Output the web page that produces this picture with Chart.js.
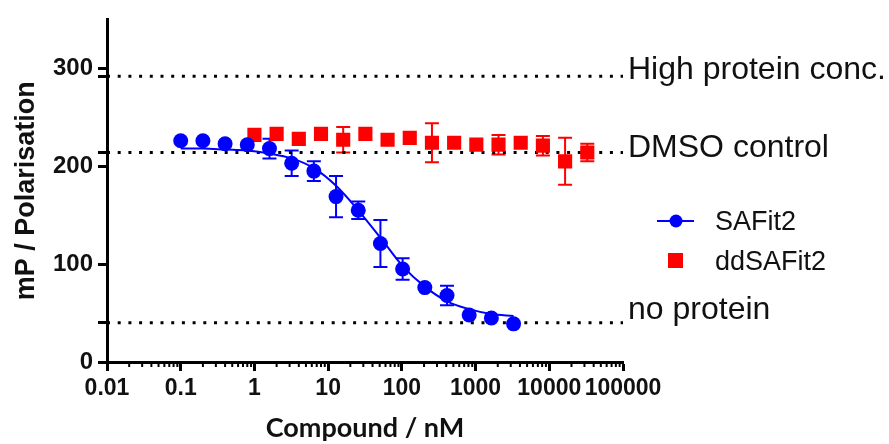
<!DOCTYPE html>
<html>
<head>
<meta charset="utf-8">
<script src="https://cdn.jsdelivr.net/npm/chart.js@4.4.1/dist/chart.umd.min.js"></script>
<style>
  html, body { margin: 0; padding: 0; background: #fff; }
  #wrap { width: 889px; height: 444px; }
</style>
</head>
<body>
<div id="wrap"><canvas id="chart" width="889" height="444"></canvas></div>
<script>
/* polarisation assay: SAFit2 vs ddSAFit2 */

// blue circles + fitted curve
const SAFIT2_X = [0.1, 0.2, 0.4, 0.8, 1.6, 3.2, 6.4, 12.8, 25.6, 51.2, 102.4, 204.8, 409.6, 819.2, 1638.4, 3276.8];
const SAFIT2_Y = [226, 226, 223, 222, 218, 203, 195, 169, 155, 121, 95, 76, 68, 48, 45, 39];
const SAFIT2_ERR = [0, 0, 0, 0, 10, 13, 10, 21, 9, 24, 11, 0, 10, 0, 0, 0];
const FIT_X = [0.1, 0.2, 0.4, 0.8, 1.6, 3.2, 6.4, 12.8, 25.6, 51.2, 102.4, 204.8, 409.6, 819.2, 1638.4, 3276.8];
const FIT_Y = [218, 218, 217, 216, 213, 208, 198, 180, 155, 127, 98, 77, 62, 54, 49, 47];

// red squares
const DDSAFIT2_X = [1, 2, 4, 8, 16, 32, 64, 128, 256, 512, 1024, 2048, 4096, 8192, 16384, 32768];
const DDSAFIT2_Y = [232, 233, 228, 233, 227, 233, 227, 229, 224, 224, 222, 222, 224, 221, 205, 214];
const DDSAFIT2_ERR = [0, 0, 0, 0, 13, 0, 0, 0, 20, 0, 0, 10, 0, 10, 24, 9];

// dotted reference levels
const REF_LABELS = ["High protein conc.", "DMSO control", "no protein"];
const REF_VALUES = [292, 214, 40];

// axes
const X_TICKS = [0.01, 0.1, 1, 10, 100, 1000, 10000, 100000];
const X_TICK_LABELS = ["0.01", "0.1", "1", "10", "100", "1000", "10000", "100000"];
const Y_TICKS = [0, 100, 200, 300];

const BLUE = "#0000ff", RED = "#ff0000", INK = "#111";
const SANS = "'Liberation Sans', Arial, sans-serif";

const pts = (xs, ys) => xs.map((v, i) => ({ x: v, y: ys[i] }));

const refSets = REF_VALUES.map(v => ({
  type: "line",
  data: [{ x: X_TICKS[0], y: v }, { x: X_TICKS[X_TICKS.length - 1], y: v }],
  borderColor: "#000", borderWidth: 3, borderDash: [3, 7.7],
  pointRadius: 0, order: 3
}));

// error bars, drawn under the markers
const errorBars = {
  id: "errorBars",
  beforeDatasetsDraw(chart) {
    const { ctx, scales: { x, y } } = chart;
    [[SAFIT2_X, SAFIT2_Y, SAFIT2_ERR, BLUE], [DDSAFIT2_X, DDSAFIT2_Y, DDSAFIT2_ERR, RED]].forEach(([xs, ys, es, col]) => {
      ctx.save();
      ctx.strokeStyle = col; ctx.lineWidth = 2;
      xs.forEach((v, i) => {
        if (!es[i]) return;
        const px = x.getPixelForValue(v);
        const top = y.getPixelForValue(ys[i] + es[i]), bot = y.getPixelForValue(ys[i] - es[i]);
        ctx.beginPath();
        ctx.moveTo(px, top); ctx.lineTo(px, bot);
        ctx.moveTo(px - 7, top); ctx.lineTo(px + 7, top);
        ctx.moveTo(px - 7, bot); ctx.lineTo(px + 7, bot);
        ctx.stroke();
      });
      ctx.restore();
    });
  }
};

// short minor ticks on the log axis, labels on the right, legend
const extras = {
  id: "extras",
  afterDraw(chart, args, opts) {
    const { ctx, chartArea, scales: { x, y } } = chart;
    ctx.save();
    ctx.strokeStyle = "#000"; ctx.lineWidth = 2;
    for (let n = -2; n < 5; n++) {
      for (let m = 2; m < 10; m++) {
        const px = x.getPixelForValue(m * Math.pow(10, n));
        ctx.beginPath();
        ctx.moveTo(px, chartArea.bottom); ctx.lineTo(px, chartArea.bottom + 5);
        ctx.stroke();
      }
    }

    ctx.fillStyle = INK;
    ctx.font = "32px " + SANS;
    ctx.textBaseline = "alphabetic";
    REF_VALUES.forEach((v, i) => {
      ctx.fillText(REF_LABELS[i], chartArea.right + 5, y.getPixelForValue(v) + opts.labelShift[i]);
    });

    // legend
    const lx = opts.legendX, ly = opts.legendY;
    ctx.strokeStyle = BLUE; ctx.lineWidth = 2;
    ctx.beginPath(); ctx.moveTo(lx, ly); ctx.lineTo(lx + 37, ly); ctx.stroke();
    ctx.fillStyle = BLUE;
    ctx.beginPath(); ctx.arc(lx + 19, ly, 6.5, 0, Math.PI * 2); ctx.fill();
    ctx.fillStyle = RED;
    ctx.fillRect(lx + 11, ly + 32, 15, 15);
    ctx.fillStyle = INK;
    ctx.font = "27px " + SANS;
    ctx.fillText("SAFit2", lx + 58, ly + 9);
    ctx.fillText("ddSAFit2", lx + 58, ly + 49);
    ctx.restore();
  }
};

new Chart(document.getElementById("chart"), {
  type: "line",
  data: {
    datasets: [
      {
        label: "SAFit2", data: pts(SAFIT2_X, SAFIT2_Y), showLine: false,
        pointStyle: "circle", pointRadius: 7.5, pointBackgroundColor: BLUE, pointBorderWidth: 0, order: 0
      },
      {
        label: "ddSAFit2", data: pts(DDSAFIT2_X, DDSAFIT2_Y), showLine: false,
        pointStyle: "rect", pointRadius: 10, pointBackgroundColor: RED, pointBorderWidth: 0, order: 1
      },
      {
        label: "fit", data: pts(FIT_X, FIT_Y), borderColor: BLUE, borderWidth: 2,
        cubicInterpolationMode: "monotone", pointRadius: 0, order: 2
      },
      ...refSets
    ]
  },
  options: {
    responsive: false,
    animation: false,
    layout: { padding: { top: 17, right: 266, bottom: 0, left: 0 } },
    plugins: {
      legend: { display: false },
      tooltip: { enabled: false },
      extras: { labelShift: [3, 4, -4], legendX: 657, legendY: 221 }
    },
    scales: {
      x: {
        type: "logarithmic", min: 0.01, max: 100000,
        afterBuildTicks: s => { s.ticks = X_TICKS.map(v => ({ value: v })); },
        afterFit: s => { s.height = 82; },
        border: { display: true, color: "#000", width: 3 },
        grid: { drawOnChartArea: false, drawTicks: true, tickLength: 9, tickWidth: 3, tickColor: "#000" },
        ticks: {
          autoSkip: false, maxRotation: 0, padding: 4, color: INK,
          font: { family: SANS, size: 23, weight: "bold" },
          callback: (v, i) => X_TICK_LABELS[i]
        },
        title: {
          display: true, text: "Compound / nM", color: INK,
          font: { family: "Lato, 'Open Sans', sans-serif", size: 27, weight: "bold" },
          padding: { top: 0, bottom: 0 }
        }
      },
      y: {
        min: 0, max: 350,
        afterBuildTicks: s => { s.ticks = Y_TICKS.concat(REF_VALUES).sort((a, b) => a - b).map(v => ({ value: v })); },
        afterFit: s => { s.width = 107; },
        border: { display: true, color: "#000", width: 3 },
        grid: { drawOnChartArea: false, drawTicks: true, tickLength: 9, tickWidth: 3, tickColor: "#000" },
        ticks: {
          padding: 5, color: INK,
          font: { family: SANS, size: 24, weight: "bold" },
          callback: v => (Y_TICKS.includes(v) ? String(v) : "")
        },
        title: {
          display: true, text: "mP / Polarisation", color: INK,
          font: { family: SANS, size: 27, weight: "bold" },
          padding: { top: 10, bottom: 0 }
        }
      }
    }
  },
  plugins: [errorBars, extras]
});
</script>
</body>
</html>
